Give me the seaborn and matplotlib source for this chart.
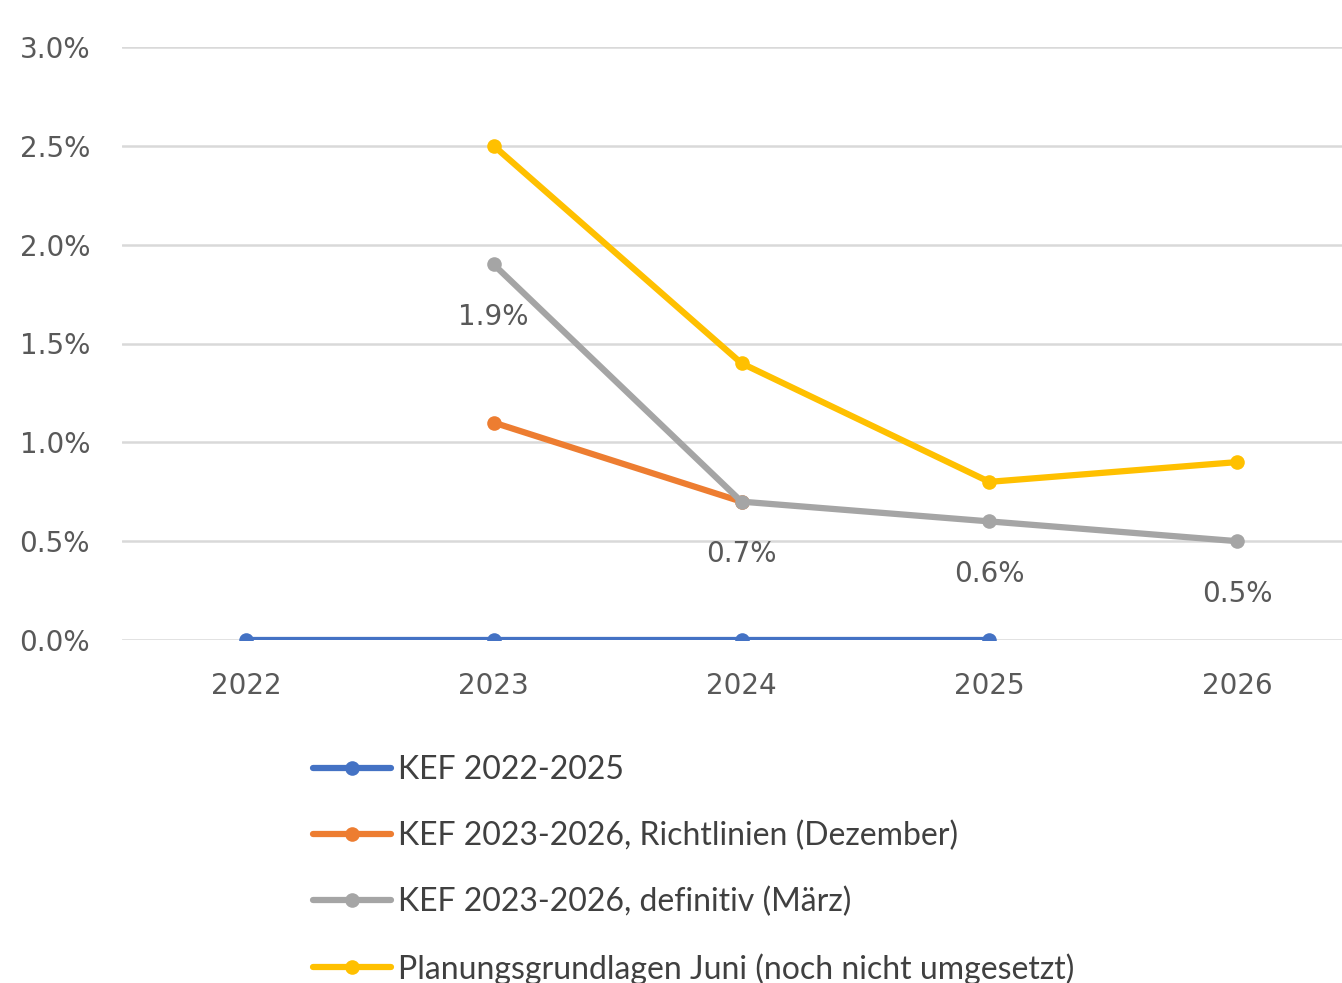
import matplotlib
matplotlib.use("Agg")
import matplotlib.pyplot as plt
import seaborn as sns
import pandas as pd
import numpy as np

# values (percent)
years = [2022, 2023, 2024, 2025, 2026]
kef_2022_2025 = [0.0, 0.0, 0.0, 0.0, np.nan]
kef_richtlinien = [np.nan, 1.1, 0.7, np.nan, np.nan]
kef_definitiv = [np.nan, 1.9, 0.7, 0.6, 0.5]
planung_juni = [np.nan, 2.5, 1.4, 0.8, 0.9]

series_names = [
    "KEF 2022-2025",
    "KEF 2023-2026, Richtlinien (Dezember)",
    "KEF 2023-2026, definitiv (März)",
    "Planungsgrundlagen Juni (noch nicht umgesetzt)",
]
series_colors = ["#4472C4", "#ED7D31", "#A5A5A5", "#FFC000"]

rows = []
for name, vals in zip(series_names, [kef_2022_2025, kef_richtlinien, kef_definitiv, planung_juni]):
    for y, v in zip(years, vals):
        rows.append({"Jahr": y, "Wert": v, "Serie": name})
df = pd.DataFrame(rows).dropna()

sns.set_style("white")
plt.rcParams["font.family"] = ["DejaVu Sans"]

fig = plt.figure(figsize=(13.42, 9.83), dpi=100)
ax = fig.add_axes([122 / 1342, 1 - 640 / 983, 1239 / 1342, 593 / 983])

sns.lineplot(data=df, x="Jahr", y="Wert", hue="Serie", hue_order=series_names,
             palette=series_colors, marker="o", markersize=10.5, markeredgewidth=0,
             linewidth=4.5, ax=ax, legend=True)

# data labels for the definitive series, below the points
for y, v in zip(years, kef_definitiv):
    if not np.isnan(v):
        ax.annotate(f"{v:.1f}%", (y, v), xytext=(0, -38), textcoords="offset points",
                    ha="center", va="center", fontsize=20, color="#595959")

ax.set_xlim(2021.5, 2026.5)
ax.set_ylim(0, 3.0)
ax.set_xticks(years)
ax.set_xticklabels([str(y) for y in years])
ax.set_yticks(np.arange(0, 3.01, 0.5))
ax.set_yticklabels([f"{t:.1f}%" for t in np.arange(0, 3.01, 0.5)])
ax.tick_params(axis="both", length=0, labelcolor="#595959")
ax.tick_params(axis="x", pad=23, labelsize=20)
ax.tick_params(axis="y", pad=23, labelsize=20)
ax.grid(axis="y", color="#D9D9D9", linewidth=1.8)
ax.set_axisbelow(True)
for s in ax.spines.values():
    s.set_visible(False)
ax.set_xlabel("")
ax.set_ylabel("")

handles, labels = ax.get_legend_handles_labels()
ax.get_legend().remove()
leg = fig.legend(handles, labels, loc="upper left", bbox_to_anchor=(300 / 1342, 1 - 742 / 983),
                 frameon=False, prop={"family": "Lato", "size": 23}, labelcolor="#404040",
                 handlelength=2.45, handletextpad=0.22, labelspacing=1.12, borderaxespad=0)

fig.savefig("out.png", dpi=100)
